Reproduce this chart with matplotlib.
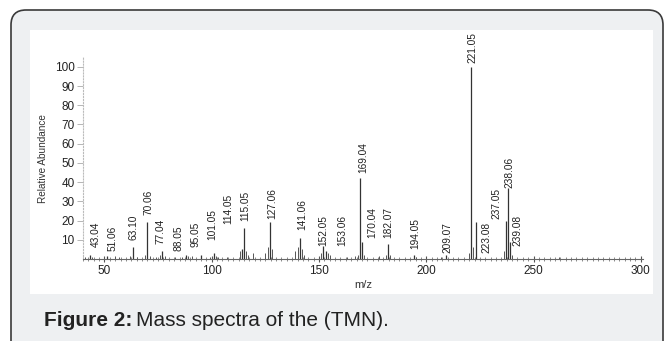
# plot.py
import matplotlib
matplotlib.use("Agg")
import matplotlib.pyplot as plt
from matplotlib.patches import FancyBboxPatch, Rectangle
from matplotlib.ticker import MultipleLocator

# -----------------------------
# 1. Data
# -----------------------------
peak_mz = [43.04, 51.06, 63.10, 70.06, 77.04, 88.05, 95.05, 101.05,
           114.05, 115.05, 127.06, 141.06, 152.05, 153.06, 169.04, 170.04,
           182.07, 194.05, 209.07, 221.05, 223.08, 237.05, 238.06, 239.08]
peak_abund = [2, 1.5, 6, 19, 4, 2, 2, 3,
              5, 16, 19, 11, 7, 4, 42, 9,
              8, 2, 2, 100, 19, 20, 37, 9]
peak_labels = ["43.04", "51.06", "63.10", "70.06", "77.04", "88.05", "95.05", "101.05",
               "114.05", "115.05", "127.06", "141.06", "152.05", "153.06", "169.04", "170.04",
               "182.07", "194.05", "209.07", "221.05", "223.08", "237.05", "238.06", "239.08"]

# where each label sits (m/z of its centre, abundance of its lower end)
label_x = [45.8, 53.7, 63.5, 70.5, 76.0, 84.4, 92.3, 100.2,
           107.7, 115.6, 128.1, 142.1, 151.9, 160.7, 170.5, 174.7,
           182.1, 194.7, 210.0, 221.6, 227.8, 232.8, 238.8, 242.3]
label_y = [6, 4, 10, 23, 8, 4, 6, 10,
           18, 20, 21, 15, 7, 7, 45, 11,
           11, 5, 3, 102, 3, 21, 37, 7]

# small unlabelled fragments
minor_mz = [41, 44, 55, 57, 62, 65, 69, 71, 74, 76, 78, 83, 86, 89, 91, 99,
            102, 103, 107, 113, 116, 117, 119, 125, 126, 128, 139, 140, 142,
            143, 151, 154, 155, 163, 167, 168, 171, 178, 181, 183, 195, 207,
            220, 222, 236, 240, 250, 262]
minor_abund = [1, 1, 1.5, 1, 1.5, 1, 2, 1.5, 1, 2, 1.5, 1, 1, 1.5, 1.5, 1,
               1.5, 1, 1, 4, 4, 2, 3, 3, 6, 5, 4, 6, 5,
               2, 3, 3, 2, 1, 1.5, 2, 2, 1.5, 2, 2, 1, 1,
               3, 6, 4, 2, 1, 1]

y_ticks = [10, 20, 30, 40, 50, 60, 70, 80, 90, 100]
x_ticks = [50, 100, 150, 200, 250, 300]

plt.rcParams["font.family"] = ["Liberation Sans", "DejaVu Sans"]

# -----------------------------
# 2. Frame (page background, rounded box, white scan panel)
# -----------------------------
W, H = 664, 341
fig = plt.figure(figsize=(W / 100, H / 100), dpi=100, facecolor="white")
bg = fig.add_axes([0, 0, 1, 1], zorder=-1)
bg.set_xlim(0, W)
bg.set_ylim(H, 0)
bg.axis("off")
bg.add_patch(FancyBboxPatch((11, 10), 652, 360, boxstyle="round,pad=0,rounding_size=15",
                            facecolor="#eef0f2", edgecolor="#3a3a3a", linewidth=1.2))
bg.add_patch(Rectangle((30, 30), 623, 264, facecolor="white", edgecolor="none"))

cap = bg.text(44, 321, "Figure 2:", fontsize=15, fontweight="bold",
              color="#222222", va="center", ha="left")
fig.canvas.draw()
bb = cap.get_window_extent().transformed(bg.transData.inverted())
bg.text(bb.x1 + 4, 321, "Mass spectra of the (TMN).", fontsize=15,
        color="#222222", va="center", ha="left")

# -----------------------------
# 3. Spectrum
# -----------------------------
ax = fig.add_axes([83 / W, 1 - 259 / H, 560 / W, 201.8 / H])
ax.set_facecolor("none")
ax.vlines(minor_mz, 0, minor_abund, color="#555555", linewidth=0.7)
ax.vlines(peak_mz, 0, peak_abund, color="#333333", linewidth=0.9)

for x, y, t in zip(label_x, label_y, peak_labels):
    ax.text(x, y, t, rotation=90, ha="center", va="bottom", fontsize=7.3,
            color="#222222", clip_on=False)

ax.set_xlim(40, 301)
ax.set_ylim(0, 105)
ax.set_xticks(x_ticks)
ax.set_yticks(y_ticks)
ax.xaxis.set_minor_locator(MultipleLocator(2.5))
ax.tick_params(axis="x", which="major", direction="inout", length=5, width=0.8,
               colors="#555555", labelcolor="#222222", labelsize=8.5, pad=2)
ax.tick_params(axis="x", which="minor", direction="inout", length=2.5, width=0.6,
               colors="#777777")
ax.tick_params(axis="y", direction="out", length=4, width=0.6, colors="#aaaaaa",
               labelcolor="#222222", labelsize=8.5, pad=2)

for s in ["top", "right"]:
    ax.spines[s].set_visible(False)
ax.spines["bottom"].set_color("#666666")
ax.spines["bottom"].set_linewidth(0.8)
ax.spines["left"].set_color("#bbbbbb")
ax.spines["left"].set_linestyle(":")
ax.spines["left"].set_linewidth(0.8)

ax.set_xlabel("m/z", fontsize=8, color="#333333", labelpad=2)
ax.set_ylabel("Relative Abundance", fontsize=7.2, color="#333333", labelpad=5)

# -----------------------------
# 4. Save figure
# -----------------------------
fig.savefig("out.png", dpi=100, facecolor="white")
